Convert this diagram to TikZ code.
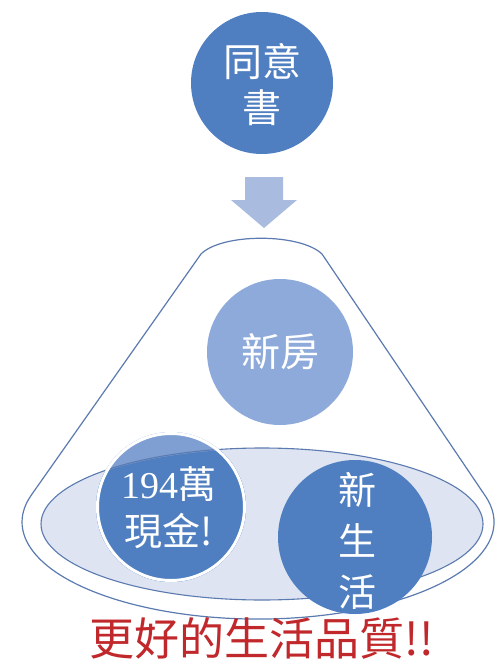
\documentclass[tikz,border=0pt]{standalone}
\usepackage{fontspec}
\setmainfont{Noto Sans CJK TC}
\newfontfamily\digitfont{Liberation Serif}
\usetikzlibrary{shapes.geometric}
\definecolor{darkblue}{HTML}{4F7FC0}
\definecolor{lightblue}{HTML}{8EAADA}
\definecolor{topblue}{HTML}{7F9FD3}
\definecolor{arrowblue}{HTML}{A9BCE0}
\definecolor{ellfill}{HTML}{DEE4F1}
\definecolor{lineblue}{HTML}{5B7AB0}
\definecolor{redtext}{HTML}{C0282B}
\tikzset{
  bubble/.style={circle, inner sep=0pt, text=white, align=center},
  bubtext/.style={text=white, align=center, inner sep=0pt},
  cone/.style={draw=lineblue, line width=1.2pt, fill=white},
}
\begin{document}
\begin{tikzpicture}[x=1pt,y=-1pt]
\useasboundingbox (0,0) rectangle (498,663);
% top circle
\node[bubble, fill=darkblue, minimum size=142pt] (top) at (262,83) {};
\node[bubtext, font=\fontsize{39}{46}\selectfont] (toptext) at (262,85) {同意\\書};
% arrow
\path[fill=arrowblue] (245,177) -- (283,177) -- (283,200) -- (297,200) -- (264,228) -- (231,200) -- (245,200) -- cycle;
% cone with outer ellipse
\draw[cone] (31.5,494.8) -- (201,254) .. controls (222,233) and (300,233) .. (322,254)
  -- (485.2,495.8) arc[start angle=-15.7, end angle=196.3, x radius=236, y radius=97] -- cycle;
% inner ellipse
\node[ellipse, draw=lineblue, line width=1.1pt, fill=ellfill, minimum width=442pt, minimum height=152pt, inner sep=0pt] (inner) at (262,524) {};
% new house
\node[bubble, fill=lightblue, minimum size=146pt] (house) at (280,352) {};
\node[bubtext, font=\fontsize{39}{46}\selectfont] (housetext) at (280,352) {新房};
% cash circle
\node[bubble, fill=topblue, minimum size=150pt] (cash) at (171,507) {};
\begin{scope}
  \clip (262,524) ellipse [x radius=220, y radius=75];
  \fill[darkblue] (171,507) circle [radius=75];
\end{scope}
\begin{scope}
  \clip (96,430) rectangle (246,507);
  \clip (171,507) circle [radius=74];
  \draw[lineblue, line width=1.1pt] (262,524) ellipse [x radius=221, y radius=76];
\end{scope}
\draw[white, line width=3pt] (171,507) circle [radius=73.5];
\node[bubtext, font=\fontsize{38}{47}\selectfont] (cashtext) at (169,508) {{\digitfont 194}萬\\現金!};
% new life circle
\node[bubble, fill=darkblue, minimum size=154pt] (life) at (355,537) {};
\node[bubtext, font=\fontsize{38}{51}\selectfont] (lifetext) at (357,541) {新\\生\\活};
% bottom text
\node[text=redtext, inner sep=0pt, font=\fontsize{45}{50}\selectfont] (slogan) at (262,638) {更好的生活品質!!};
\end{tikzpicture}
\end{document}
